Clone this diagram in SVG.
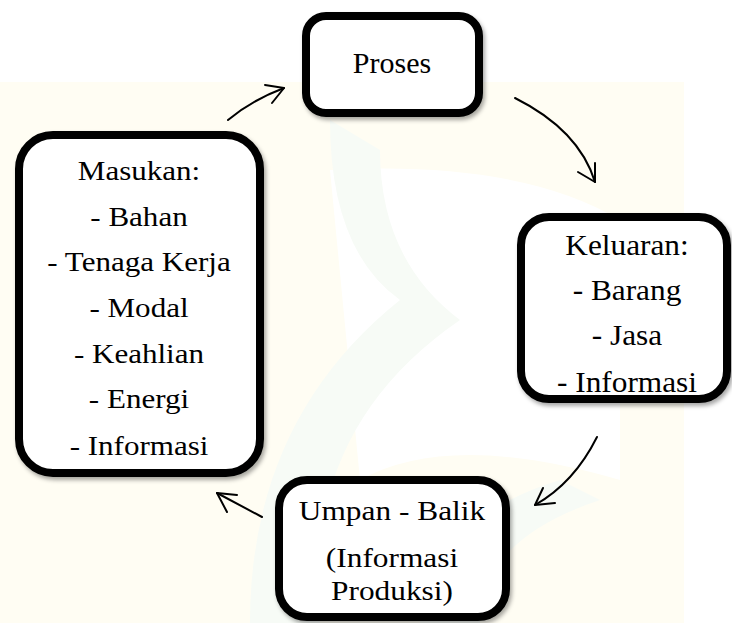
<svg xmlns="http://www.w3.org/2000/svg" width="732" height="623" viewBox="0 0 732 623">
<style>
.box{fill:#fff;stroke:#000;stroke-width:8;filter:url(#sh)}
.t{font-family:"Times New Roman",Tinos,"Liberation Serif","Nimbus Roman","Nimbus Roman No9 L","Noto Serif","DejaVu Serif",FreeSerif,Times,serif;fill:#000;text-anchor:middle}
.c{fill:none;stroke:#000;stroke-width:2;stroke-linecap:round;stroke-linejoin:round}
</style>
<defs>
<filter id="sh" x="-10%" y="-10%" width="125%" height="125%">
<feDropShadow dx="2" dy="3" stdDeviation="2" flood-color="#000" flood-opacity="0.35"/>
</filter>
</defs>
<rect width="732" height="623" fill="#fff"/>
<g id="watermark">
<rect x="0" y="82" width="684" height="541" fill="#fffdf3"/>
<path d="M330 170 Q520 160 620 220 L620 480 Q450 430 360 480 Z" fill="#ffffff"/>
<path d="M250 623 Q250 420 400 300 Q330 250 330 120 L380 150 Q380 260 460 320 Q300 430 320 623 Z" fill="#f7fbf6"/>
<path d="M420 623 Q430 520 560 480 L600 500 Q480 540 480 623 Z" fill="#f7fbf6"/>
</g>
<g id="connectors">
<path class="c" d="M228 120 Q252 100 284 88"/>
<polyline class="c" points="265,85 284,88 272,103"/>
<path class="c" d="M515 98 Q579 130 595 182"/>
<polyline class="c" points="578,172 595,182 595,163"/>
<path class="c" d="M597 437 Q574 483 535 505"/>
<polyline class="c" points="543,488 535,505 555,503"/>
<path class="c" d="M262 517 L217 493"/>
<polyline class="c" points="227,512 217,493 237,495"/>
</g>
<g id="proses">
<rect class="box" x="306" y="16" width="173" height="97" rx="20"/>
<text class="t" x="392" y="73" font-size="30">Proses</text>
</g>
<g id="masukan">
<rect class="box" x="19" y="135" width="241" height="338" rx="34"/>
<g transform="matrix(1.15,0,0,1,-20.85,0)" font-size="27">
<text class="t" x="139" y="180">Masukan:</text>
<text class="t" x="139" y="226">- Bahan</text>
<text class="t" x="139" y="271">- Tenaga Kerja</text>
<text class="t" x="139" y="317">- Modal</text>
<text class="t" x="139" y="363">- Keahlian</text>
<text class="t" x="139" y="408">- Energi</text>
<text class="t" x="139" y="455">- Informasi</text>
</g>
</g>
<g id="keluaran">
<rect class="box" x="521" y="217" width="206" height="182" rx="28"/>
<g transform="matrix(1.08,0,0,1,-50.16,0)" font-size="29">
<text class="t" x="627" y="255">Keluaran:</text>
<text class="t" x="627" y="300">- Barang</text>
<text class="t" x="627" y="345">- Jasa</text>
<text class="t" x="627" y="392">- Informasi</text>
</g>
</g>
<g id="umpan-balik">
<rect class="box" x="279" y="480" width="227" height="137" rx="28"/>
<g transform="matrix(1.12,0,0,1,-47.04,0)" font-size="28">
<text class="t" x="392" y="520">Umpan - Balik</text>
<text class="t" x="392" y="567">(Informasi</text>
<text class="t" x="392" y="600">Produksi)</text>
</g>
</g>
</svg>
